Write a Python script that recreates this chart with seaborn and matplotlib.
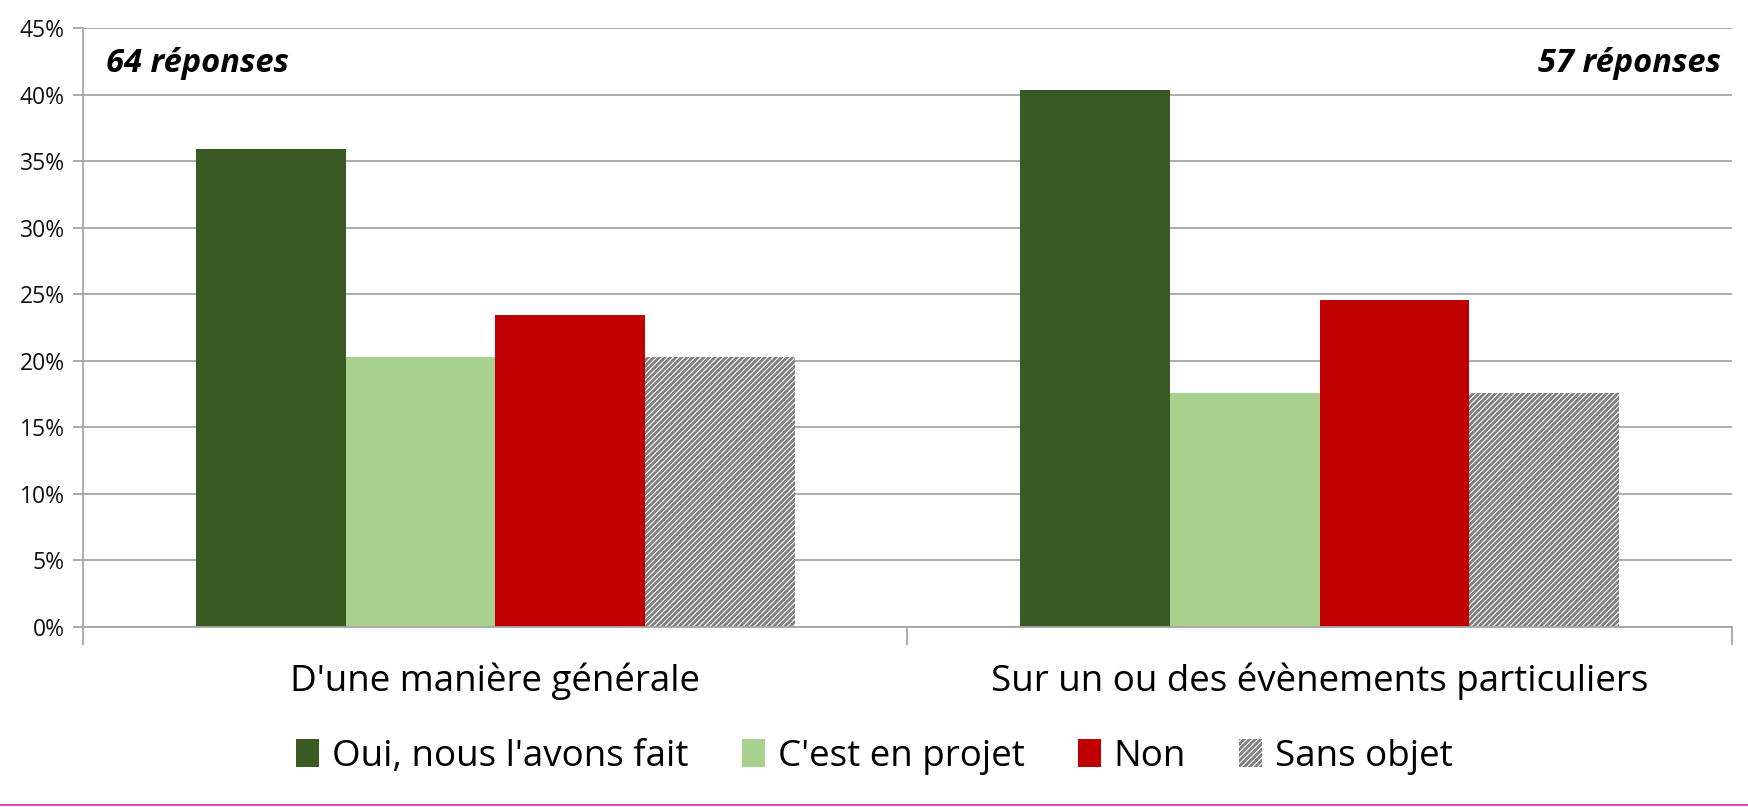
import numpy as np
import pandas as pd
import matplotlib
matplotlib.use("Agg")
import matplotlib.pyplot as plt
import seaborn as sns
from matplotlib.patches import Patch
from matplotlib.lines import Line2D
from matplotlib.ticker import PercentFormatter

# data
categories = ["D'une manière générale", "Sur un ou des évènements particuliers"]
responses = ["Oui, nous l'avons fait", "C'est en projet", "Non", "Sans objet"]
general = [23 / 64, 13 / 64, 15 / 64, 13 / 64]
events = [23 / 57, 10 / 57, 14 / 57, 10 / 57]
counts = ["64 réponses", "57 réponses"]
colors = ["#3A5A24", "#A9D18E", "#C00000", "#FFFFFF"]

rows = []
for cat, vals in zip(categories, [general, events]):
    for r, v in zip(responses, vals):
        rows.append({"categorie": cat, "reponse": r, "part": v})
df = pd.DataFrame(rows)

sns.set_theme(style="white")
plt.rcParams["font.family"] = ["Open Sans", "DejaVu Sans"]
plt.rcParams["text.color"] = "#000000"
plt.rcParams["hatch.color"] = "#7F7F7F"
plt.rcParams["hatch.linewidth"] = 2.0

fig = plt.figure(figsize=(17.49, 8.07), dpi=100)
ax = fig.add_axes([83 / 1749, 1 - 627 / 807, (1732 - 83) / 1749, (627 - 28) / 807])

sns.barplot(data=df, x="categorie", y="part", hue="reponse", hue_order=responses,
            palette=colors, width=0.7265, gap=0, saturation=1, ax=ax, legend=False)

for bar in ax.containers[3]:
    bar.set_hatch("//////")
    bar.set_edgecolor("#7F7F7F")
    bar.set_linewidth(0)
for c in ax.containers[:3]:
    for bar in c:
        bar.set_linewidth(0)

ax.set_ylim(0, 0.45)
ax.set_xlim(-0.5, 1.5)
ax.set_yticks(np.arange(0, 0.451, 0.05))
ax.yaxis.set_major_formatter(PercentFormatter(1.0, decimals=0))
ax.yaxis.grid(True, color="#A6A6A6", linewidth=1.3)
ax.set_axisbelow(True)
ax.tick_params(axis="y", left=True, length=7, width=1.3, color="#A6A6A6",
               labelsize=16.5, pad=6, labelcolor="#111111")

ax.set_xticks([-0.5, 0.5, 1.5])
ax.set_xticklabels([])
ax.tick_params(axis="x", bottom=True, length=13, width=1.3, color="#A6A6A6")
ax.set_xlabel("")
ax.set_ylabel("")
for i, cat in enumerate(categories):
    ax.text(i, -0.09, cat, ha="center", va="center", fontsize=26.5,
            transform=ax.get_xaxis_transform(), clip_on=False)

for side in ["top", "right"]:
    ax.spines[side].set_visible(False)
for side in ["left", "bottom"]:
    ax.spines[side].set_color("#A6A6A6")
    ax.spines[side].set_linewidth(1.3)

ax.text(0.014, 0.968, counts[0], transform=ax.transAxes, ha="left", va="top",
        fontsize=23.5, fontweight="bold", fontstyle="italic")
ax.text(0.993, 0.968, counts[1], transform=ax.transAxes, ha="right", va="top",
        fontsize=23.5, fontweight="bold", fontstyle="italic")

handles = []
for r, col in zip(responses, colors):
    if r == "Sans objet":
        handles.append(Patch(facecolor="white", edgecolor="#7F7F7F", hatch="//////",
                             linewidth=0, label=r))
    else:
        handles.append(Patch(facecolor=col, linewidth=0, label=r))
fig.legend(handles=handles, loc="center", bbox_to_anchor=(0.5, 1 - 757 / 807),
           ncol=4, frameon=False, fontsize=26.5, handlelength=0.62, handleheight=0.8,
           handletextpad=0.35, columnspacing=1.45)

fig.add_artist(Line2D([0, 1], [1 - 805 / 807] * 2, color="#DD44BB", linewidth=1.5,
                      transform=fig.transFigure))

fig.savefig("out.png", dpi=100)
